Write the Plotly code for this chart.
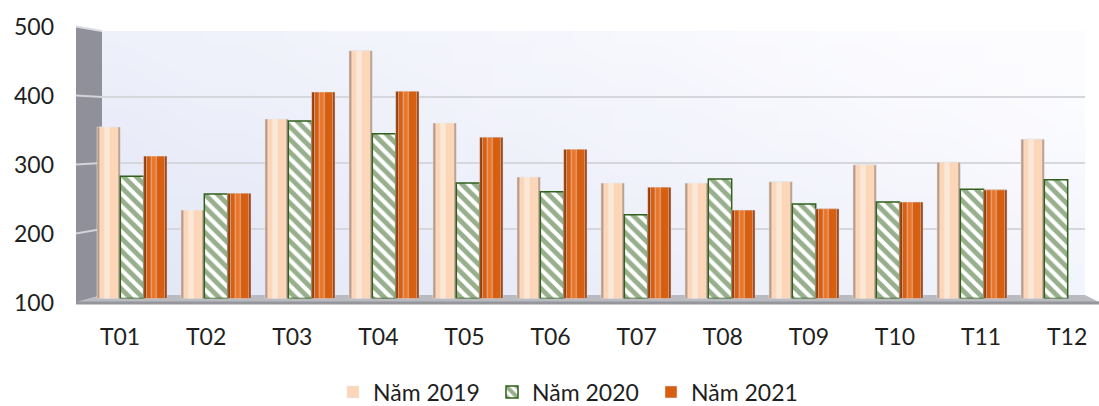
import base64
import struct
import zlib

import plotly.graph_objects as go

# ---------------- data ----------------
months = ["T01", "T02", "T03", "T04", "T05", "T06", "T07", "T08", "T09", "T10", "T11", "T12"]
nam_2019 = [354, 231, 366, 467, 360, 280, 271, 271, 273, 298, 302, 336]
nam_2020 = [281, 255, 363, 344, 271, 258, 224, 277, 240, 243, 262, 276]
nam_2021 = [311, 256, 406, 407, 339, 321, 265, 231, 233, 243, 261, None]
series_names = ["Năm 2019", "Năm 2020", "Năm 2021"]
y_ticks = [100, 200, 300, 400, 500]

# ---------------- geometry helpers (pixels -> paper) ----------------
W, H = 1099, 406


def fx(p):
    return p / W


def fy(p):
    return 1 - p / H


FONT = dict(family="Lato, 'Open Sans', sans-serif", size=23, color="#1f1f1f")


def png_data_uri(w, h, pixfn):
    raw = b""
    for j in range(h):
        row = bytearray([0])
        for i in range(w):
            row.extend(pixfn(i / (w - 1), j / (h - 1)))
        raw += bytes(row)

    def chunk(tag, data):
        return (struct.pack(">I", len(data)) + tag + data
                + struct.pack(">I", zlib.crc32(tag + data) & 0xFFFFFFFF))

    png = (b"\x89PNG\r\n\x1a\n"
           + chunk(b"IHDR", struct.pack(">IIBBBBB", w, h, 8, 2, 0, 0, 0))
           + chunk(b"IDAT", zlib.compress(raw))
           + chunk(b"IEND", b""))
    return "data:image/png;base64," + base64.b64encode(png).decode()


dark = (227, 231, 246)
light = (252, 252, 255)


def wall_pix(u, v):
    t = min(1.0, max(0.0, 0.65 * u + 0.45 * (1 - v)))
    return [int(round(dark[k] + (light[k] - dark[k]) * t)) for k in range(3)]


wall_img = png_data_uri(24, 12, wall_pix)

fig = go.Figure()

# invisible helper traces so every subplot is built
fig.add_trace(go.Scatter(x=[0], y=[None], xaxis="x", yaxis="y", mode="none",
                         showlegend=False, hoverinfo="skip"))
fig.add_trace(go.Scatter(x=months, y=[None] * len(months), xaxis="x3", yaxis="y3",
                         mode="none", showlegend=False, hoverinfo="skip"))

# ---------------- bars ----------------
w = 0.278
starts = [-1.5 * w, -0.5 * w, 0.5 * w]

styles = [
    dict(edge="#bf9a80", main="#fdd6b7", hi="#ffe6d2"),
    None,
    dict(edge="#963c07", main="#d75f12", hi="#e9782c"),
]
values = [nam_2019, nam_2020, nam_2021]

for k, (name, vals) in enumerate(zip(series_names, values)):
    off = starts[k]
    st = styles[k]
    heights = [None if v is None else v - 100 for v in vals]
    if st is None:
        fig.add_trace(go.Bar(
            x=months, y=heights, base=100,
            name=name, width=w, offset=off, xaxis="x2", yaxis="y2",
            marker=dict(color="white",
                        pattern=dict(shape="\\", fgcolor="#30601a", bgcolor="white",
                                     size=9, solidity=0.55),
                        line=dict(color="#30601a", width=1.5)),
            legendrank=k + 1, hoverinfo="skip"))
        continue
    fig.add_trace(go.Bar(x=months, y=heights, base=100, width=w, offset=off,
                         xaxis="x2", yaxis="y2", marker=dict(color=st["edge"]),
                         showlegend=False, hoverinfo="skip"))
    fig.add_trace(go.Bar(x=months, y=heights, base=100, width=w * 0.78, offset=off + w * 0.12,
                         xaxis="x2", yaxis="y2", marker=dict(color=st["main"]),
                         name=name, legendrank=k + 1, hoverinfo="skip"))
    fig.add_trace(go.Bar(x=months, y=heights, base=100, width=w * 0.22, offset=off + w * 0.32,
                         xaxis="x2", yaxis="y2", marker=dict(color=st["hi"]),
                         showlegend=False, hoverinfo="skip"))

# ---------------- decorations (walls / floor) ----------------
def front(v):
    return 302.5 - (v - 100) * 0.69


def back(v):
    return 295 - (v - 100) * 0.66


shapes = []
# side wall
shapes.append(dict(type="path", xref="paper", yref="paper", layer="below",
                   path=f"M {fx(76)} {fy(front(500))} L {fx(102)} {fy(back(500))} "
                        f"L {fx(102)} {fy(back(100))} L {fx(76)} {fy(front(100))} Z",
                   fillcolor="#8f9099", line=dict(width=0)))
shapes.append(dict(type="line", xref="paper", yref="paper", layer="below",
                   x0=fx(76), y0=fy(front(500)), x1=fx(102), y1=fy(back(500)),
                   line=dict(color="#dcdde2", width=2)))
for v in y_ticks[1:-1]:
    shapes.append(dict(type="line", xref="paper", yref="paper", layer="below",
                       x0=fx(76), y0=fy(front(v)), x1=fx(102), y1=fy(back(v)),
                       line=dict(color="#d3d4da", width=2)))
# floor
shapes.append(dict(type="path", xref="paper", yref="paper", layer="below",
                   path=f"M {fx(102)} {fy(back(100))} L {fx(1085)} {fy(back(100))} "
                        f"L {fx(1099)} {fy(302)} L {fx(76)} {fy(302)} Z",
                   fillcolor="#b9bbc0", line=dict(width=0)))
shapes.append(dict(type="line", xref="paper", yref="paper", layer="below",
                   x0=fx(76), y0=fy(303), x1=fx(1099), y1=fy(303),
                   line=dict(color="#94969b", width=3)))

fig.update_layout(
    width=W, height=H,
    margin=dict(l=0, r=0, t=0, b=0, autoexpand=False),
    paper_bgcolor="white",
    plot_bgcolor="rgba(0,0,0,0)",
    barmode="overlay",
    font=FONT,
    shapes=shapes,
    images=[dict(source=wall_img, xref="paper", yref="paper",
                 x=fx(102), y=fy(back(500)), sizex=fx(1085) - fx(102),
                 sizey=fy(back(500)) - fy(back(100)), sizing="stretch",
                 layer="below", xanchor="left", yanchor="top")],
    # back wall grid
    xaxis=dict(domain=[fx(102), fx(1085)], range=[0, 1], visible=False, anchor="y"),
    yaxis=dict(domain=[fy(back(100)), fy(back(500))], range=[100, 500], tickvals=y_ticks,
               showgrid=True, gridcolor="#d6d7dc", gridwidth=2, showticklabels=False,
               zeroline=False, showline=False, anchor="x"),
    # bars
    xaxis2=dict(domain=[fx(90), fx(1098)], type="category", categoryarray=months,
                range=[-0.5, 11.5], visible=False, anchor="y2"),
    yaxis2=dict(domain=[fy(298.5), fy(28.5)], range=[100, 500], visible=False,
                anchor="x2"),
    # front-plane labels
    xaxis3=dict(domain=[fx(77), 1.0], type="category", categoryarray=months,
                range=[-0.5, 11.37], showgrid=False, showline=False, zeroline=False,
                ticks="", ticklabelstandoff=18, tickfont=FONT, anchor="y3"),
    yaxis3=dict(domain=[fy(302.5), fy(26.5)], range=[100, 500], tickvals=y_ticks,
                showgrid=False, showline=False, zeroline=False, ticks="",
                ticklabelstandoff=22, tickfont=FONT, anchor="x3"),
    legend=dict(orientation="h", x=fx(333), xanchor="left", y=fy(392), yanchor="middle",
                font=FONT, entrywidth=114, bgcolor="rgba(0,0,0,0)",
                traceorder="normal"),
    showlegend=True,
)

fig.write_html("out.html")
